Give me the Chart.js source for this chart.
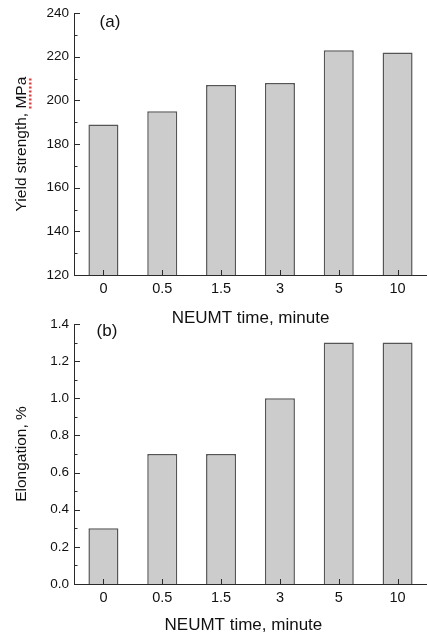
<!DOCTYPE html>
<html>
<head>
<meta charset="utf-8">
<script src="https://cdn.jsdelivr.net/npm/chart.js@4.4.1/dist/chart.umd.min.js"></script>
<style>
  html, body { margin: 0; padding: 0; background: #fff; }
  #wrap { position: relative; width: 427px; height: 639px; overflow: hidden; }
  canvas { position: absolute; left: 0; }
  #chartA { top: 0; }
  #chartB { top: 300px; }
</style>
</head>
<body>
<div id="wrap">
  <canvas id="chartA" width="427" height="335"></canvas>
  <canvas id="chartB" width="427" height="339"></canvas>
</div>
<script>
// data
const categories = ['0', '0.5', '1.5', '3', '5', '10'];
const yieldStrength = [189, 195, 207, 208, 223, 222];
const elongation = [0.3, 0.7, 0.7, 1.0, 1.3, 1.3];
const yieldTicks = [120, 140, 160, 180, 200, 220, 240];
const elongTicks = [0.0, 0.2, 0.4, 0.6, 0.8, 1.0, 1.2, 1.4];

const FONT = '"Liberation Sans", Arial, sans-serif';
const axisColor = '#2a2a2a';
const textColor = '#111111';

// inward ticks (major + minor), panel letter, and the little red spell-check mark
const panelExtras = {
  id: 'panelExtras',
  afterDraw(chart, args, opts) {
    const ctx = chart.ctx;
    const area = chart.chartArea;
    const xs = chart.scales.x;
    const ys = chart.scales.y;
    ctx.save();
    ctx.strokeStyle = axisColor;
    ctx.lineWidth = 1;
    ctx.beginPath();
    const vals = ys.ticks.map(t => t.value);
    vals.forEach((v, i) => {
      const py = Math.round(ys.getPixelForValue(v)) + 0.5;
      ctx.moveTo(area.left, py);
      ctx.lineTo(area.left + 6, py);
      if (i < vals.length - 1) {
        const pm = Math.round(ys.getPixelForValue((v + vals[i + 1]) / 2)) + 0.5;
        ctx.moveTo(area.left, pm);
        ctx.lineTo(area.left + 3.5, pm);
      }
    });
    categories.forEach((c, i) => {
      const px = Math.round(xs.getPixelForValue(i)) + 0.5;
      ctx.moveTo(px, area.bottom);
      ctx.lineTo(px, area.bottom - 5);
    });
    ctx.stroke();

    ctx.fillStyle = textColor;
    ctx.font = '17px ' + FONT;
    ctx.textAlign = 'center';
    ctx.textBaseline = 'middle';
    ctx.fillText(opts.label, area.left + opts.dx, area.top + opts.dy);

    if (opts.squiggle) {
      // red dotted underline under "MPa" in the rotated y title
      const t = ys.options.title;
      ctx.font = t.font.size + 'px ' + FONT;
      const full = ctx.measureText(t.text).width;
      const part = ctx.measureText(opts.squiggle).width;
      const tx = ys.left + t.font.size * 1.2 / 2 + t.padding.top;
      const ty = (ys.top + ys.bottom) / 2;
      ctx.translate(tx, ty);
      ctx.rotate(-Math.PI / 2);
      ctx.strokeStyle = '#e23b3b';
      ctx.lineWidth = 2.5;
      ctx.setLineDash([2, 2]);
      ctx.beginPath();
      ctx.moveTo(full / 2 - part, 9);
      ctx.lineTo(full / 2, 9);
      ctx.stroke();
    }
    ctx.restore();
  }
};

function makeChart(canvasId, values, tickVals, yTitle, xTitle, decimals, extras, layoutTop, xHeight, xTitlePad) {
  return new Chart(document.getElementById(canvasId), {
    type: 'bar',
    data: {
      labels: categories,
      datasets: [{
        data: values,
        backgroundColor: '#cccccc',
        borderColor: '#555555',
        borderWidth: 1.5,
        barPercentage: 0.51,
        categoryPercentage: 1.0
      }]
    },
    options: {
      responsive: false,
      devicePixelRatio: 1,
      animation: false,
      layout: { padding: { top: layoutTop, left: 0, right: 0, bottom: 0 } },
      plugins: {
        legend: { display: false },
        tooltip: { enabled: false },
        panelExtras: extras
      },
      scales: {
        x: {
          offset: true,
          grid: { display: false, drawTicks: false },
          border: { display: true, color: axisColor, width: 1 },
          ticks: { color: textColor, font: { family: FONT, size: 14.5 }, padding: 5, maxRotation: 0 },
          title: {
            display: true,
            text: xTitle,
            color: textColor,
            font: { family: FONT, size: 17 },
            padding: { top: 0, bottom: xTitlePad }
          },
          afterFit: s => { s.height = xHeight; }
        },
        y: {
          min: tickVals[0],
          max: tickVals[tickVals.length - 1],
          grid: { display: false, drawTicks: false },
          border: { display: true, color: axisColor, width: 1 },
          afterBuildTicks: s => { s.ticks = tickVals.map(v => ({ value: v })); },
          ticks: {
            color: textColor,
            font: { family: FONT, size: 13.5 },
            padding: 5,
            callback: v => Number(v).toFixed(decimals)
          },
          title: {
            display: true,
            text: yTitle,
            color: textColor,
            font: { family: FONT, size: 15.5 },
            padding: { top: 12, bottom: 0 }
          },
          afterFit: s => { s.width = 74; }
        }
      }
    },
    plugins: [panelExtras]
  });
}

makeChart('chartA', yieldStrength, yieldTicks, 'Yield strength, MPa', 'NEUMT time, minute', 0,
  { label: '(a)', dx: 36, dy: 9, squiggle: 'MPa' }, 13, 60, 6);

makeChart('chartB', elongation, elongTicks, 'Elongation, %', 'NEUMT time, minute   ', 1,
  { label: '(b)', dx: 33, dy: 7 }, 24, 55, 3);
</script>
</body>
</html>
